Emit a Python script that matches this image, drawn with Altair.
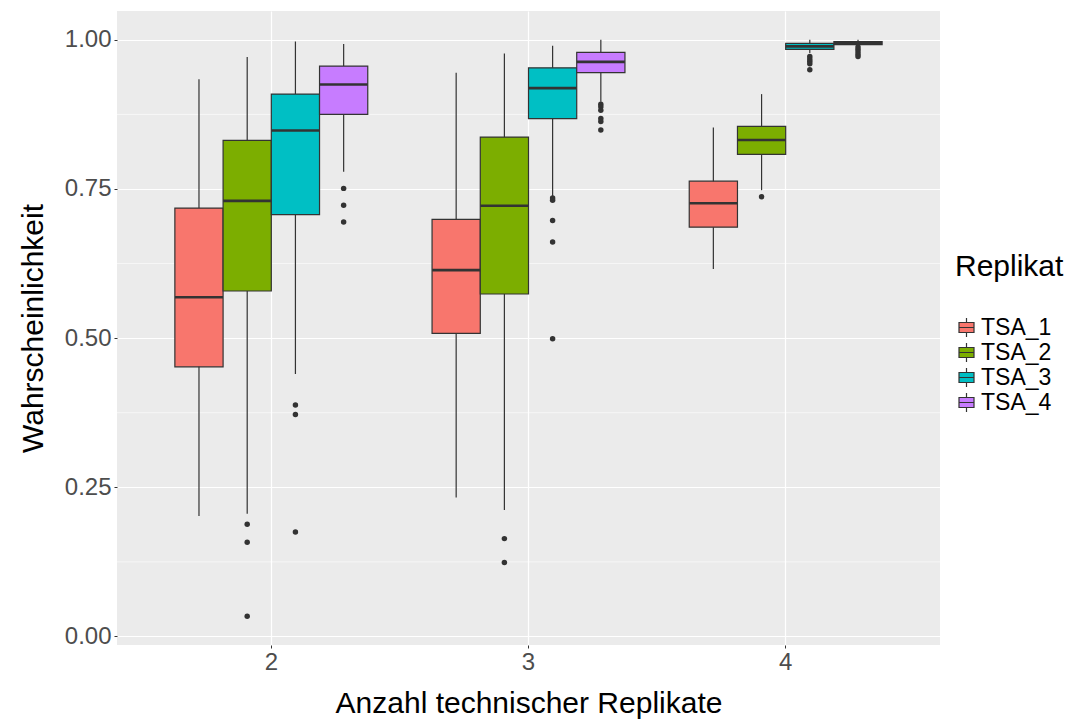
import altair as alt
import pandas as pd

# ---------------- data ----------------
groups = ["2", "3", "4"]
replicates = ["TSA_1", "TSA_2", "TSA_3", "TSA_4"]
colors = ["#F8766D", "#7CAE00", "#00BFC4", "#C77CFF"]

box_group = ["2"] * 4 + ["3"] * 4 + ["4"] * 4
box_replicate = replicates * 3
whisker_low = [0.202, 0.2055, 0.440, 0.779, 0.233, 0.212, 0.738, 0.896, 0.616, 0.748, 0.978, 0.990]
q1 = [0.452, 0.579, 0.707, 0.875, 0.508, 0.574, 0.868, 0.945, 0.686, 0.808, 0.984, 0.992]
median = [0.5685, 0.730, 0.848, 0.925, 0.614, 0.722, 0.919, 0.963, 0.726, 0.832, 0.989, 0.994]
q3 = [0.718, 0.8315, 0.909, 0.956, 0.699, 0.837, 0.953, 0.979, 0.763, 0.855, 0.994, 0.997]
whisker_high = [0.934, 0.971, 0.997, 0.993, 0.945, 0.977, 0.990, 1.000, 0.853, 0.909, 1.000, 1.000]

out_group = (["2"] * 3 + ["2"] * 3 + ["2"] * 3
             + ["3"] * 2 + ["3"] * 5 + ["3"] * 6
             + ["4"] * 1 + ["4"] * 5 + ["4"] * 5)
out_replicate = (["TSA_2"] * 3 + ["TSA_3"] * 3 + ["TSA_4"] * 3
                 + ["TSA_2"] * 2 + ["TSA_3"] * 5 + ["TSA_4"] * 6
                 + ["TSA_2"] * 1 + ["TSA_3"] * 5 + ["TSA_4"] * 5)
out_value = ([0.188, 0.158, 0.034] + [0.388, 0.372, 0.175] + [0.751, 0.7226, 0.6945]
             + [0.164, 0.124] + [0.735, 0.731, 0.697, 0.661, 0.499]
             + [0.892, 0.888, 0.882, 0.868, 0.863, 0.849]
             + [0.737] + [0.972, 0.968, 0.964, 0.960, 0.9497]
             + [0.988, 0.984, 0.980, 0.976, 0.972])

minor_ticks = [0.125, 0.375, 0.625, 0.875]
major_ticks = [0.0, 0.25, 0.5, 0.75, 1.0]

boxes = pd.DataFrame({
    "group": box_group, "replicate": box_replicate,
    "lower": whisker_low, "q1": q1, "median": median, "q3": q3, "upper": whisker_high,
})
outliers = pd.DataFrame({"group": out_group, "replicate": out_replicate, "value": out_value})
minor_df = pd.DataFrame({"v": minor_ticks})

FONT = "Liberation Sans"
YT = "Wahrscheinlichkeit"
XT = "Anzahl technischer Replikate"

y_scale = alt.Scale(domain=[-0.0143, 1.0483], nice=False, zero=False)
x_scale = alt.Scale(domain=groups, paddingInner=0.25, paddingOuter=0.225)
off_scale = alt.Scale(domain=replicates, paddingInner=0, paddingOuter=0)

x_axis = alt.Axis(
    grid=True, gridColor="white", gridWidth=1.2, bandPosition=0.5,
    domain=False, ticks=True, tickColor="#333333", tickSize=3, tickWidth=1,
    labelFont=FONT, labelFontSize=24, labelColor="#4D4D4D", labelPadding=2, labelAngle=0,
    titleFont=FONT, titleFontSize=30, titleColor="black", titleFontWeight="normal", titlePadding=14,
)
y_axis = alt.Axis(
    values=major_ticks, format=".2f",
    grid=True, gridColor="white", gridWidth=1.2,
    domain=False, ticks=True, tickColor="#333333", tickSize=3, tickWidth=1,
    labelFont=FONT, labelFontSize=24, labelColor="#4D4D4D", labelPadding=3,
    titleFont=FONT, titleFontSize=30, titleColor="black", titleFontWeight="normal", titlePadding=16,
)

legend_symbol = "M-0.75,-0.5H0.75V0.5H-0.75Z M-0.75,0H0.75 M0,-0.5V-0.95 M0,0.5V0.95"

X = alt.X("group:N", scale=x_scale, axis=x_axis, title=XT)
XO = alt.XOffset("replicate:N", scale=off_scale)

minor_grid = alt.Chart(minor_df).mark_rule(color="white", strokeWidth=0.6).encode(
    y=alt.Y("v:Q", scale=y_scale, axis=y_axis, title=YT)
)

whiskers = alt.Chart(boxes).mark_rule(color="#333333", strokeWidth=1.2).encode(
    x=X, xOffset=XO,
    y=alt.Y("lower:Q", scale=y_scale, axis=y_axis, title=YT),
    y2="upper:Q",
)

bars = alt.Chart(boxes).mark_bar(stroke="#333333", strokeWidth=1.2, opacity=1).encode(
    x=X, xOffset=XO,
    y=alt.Y("q1:Q", scale=y_scale, axis=y_axis, title=YT),
    y2="q3:Q",
    color=alt.Color(
        "replicate:N",
        scale=alt.Scale(domain=replicates, range=colors),
        legend=alt.Legend(
            title="Replikat", orient="none", legendX=838, legendY=241, padding=0,
            titleFont=FONT, titleFontSize=30, titleColor="black", titleFontWeight="normal",
            titlePadding=34,
            labelFont=FONT, labelFontSize=23, labelColor="black", labelOffset=3,
            symbolType=legend_symbol, symbolSize=400, symbolStrokeColor="#333333",
            symbolStrokeWidth=1.2, symbolOpacity=1, rowPadding=0,
        ),
    ),
)

medians = alt.Chart(boxes).mark_tick(color="#333333", thickness=2.6, size=48, opacity=1).encode(
    x=X, xOffset=XO,
    y=alt.Y("median:Q", scale=y_scale, axis=y_axis, title=YT),
)

points = alt.Chart(outliers).mark_circle(color="#333333", size=30, opacity=1).encode(
    x=X, xOffset=XO,
    y=alt.Y("value:Q", scale=y_scale, axis=y_axis, title=YT),
)

chart = alt.layer(minor_grid, whiskers, bars, medians, points).properties(
    width=823, height=634,
    autosize=alt.AutoSizeParams(type="none"),
    padding={"left": 109, "top": 3, "right": 126, "bottom": 74},
).configure(
    background="white"
).configure_view(
    fill="#EBEBEB", stroke=None
)

chart.save("out.html", embed_options={"renderer": "svg", "actions": False})
